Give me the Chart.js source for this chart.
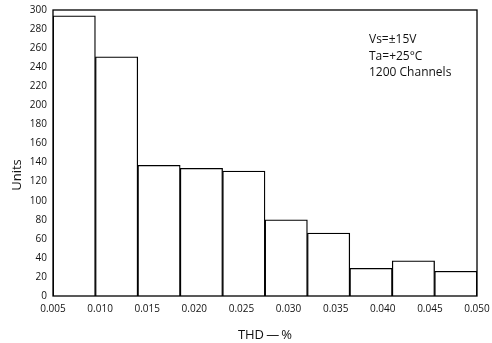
<!DOCTYPE html>
<html>
<head>
<meta charset="utf-8">
<script src="https://cdn.jsdelivr.net/npm/chart.js@4/dist/chart.umd.min.js"></script>
<style>
  html, body { margin: 0; padding: 0; background: #fff; }
  #wrap { width: 492px; height: 343px; }
</style>
</head>
<body>
<div id="wrap"><canvas id="thdChart" width="492" height="343"></canvas></div>
<script>
// histogram bins (THD %), bin centres and counts
const binCenters = [0.00725, 0.01175, 0.01625, 0.02075, 0.02525, 0.02975, 0.03425, 0.03875, 0.04325, 0.04775];
const unitCounts = [294, 251, 137, 134, 131, 80, 66, 29, 37, 26];
const notes = ['Vs=\u00b115V', 'Ta=+25\u00b0C', '1200 Channels'];

const FONT = "'Open Sans', 'Noto Sans', sans-serif";

// frame around the plot plus the free-standing texts
const extras = {
  id: 'extras',
  afterDraw(chart) {
    const { ctx, chartArea: a } = chart;
    ctx.save();
    ctx.strokeStyle = '#000';
    ctx.lineWidth = 1.3;
    ctx.strokeRect(a.left, a.top, a.right - a.left, a.bottom - a.top);

    ctx.fillStyle = '#111';
    ctx.font = '12px ' + FONT;
    ctx.textAlign = 'left';
    ctx.textBaseline = 'middle';
    notes.forEach((t, i) => ctx.fillText(t, 369, 40 + i * 16.5));

    ctx.font = '13px ' + FONT;
    ctx.textAlign = 'center';
    ctx.translate(17, 175);
    ctx.rotate(-Math.PI / 2);
    ctx.fillText('Units', 0, 0);
    ctx.restore();
  }
};

new Chart(document.getElementById('thdChart').getContext('2d'), {
  type: 'bar',
  data: {
    datasets: [{
      data: binCenters.map((x, i) => ({ x: x, y: unitCounts[i] })),
      backgroundColor: '#fff',
      borderColor: '#000',
      borderWidth: 1.3,
      barPercentage: 1,
      categoryPercentage: 1
    }]
  },
  options: {
    responsive: false,
    animation: false,
    layout: { padding: { left: 0, right: 15, top: 10, bottom: 0 } },
    plugins: { legend: { display: false }, tooltip: { enabled: false } },
    scales: {
      x: {
        type: 'linear',
        offset: false,
        min: 0.005,
        max: 0.05,
        grid: { display: false, drawTicks: false },
        border: { display: false },
        ticks: {
          stepSize: 0.005,
          color: '#111',
          font: { family: FONT, size: 10 },
          padding: 7,
          maxRotation: 0,
          callback: v => v.toFixed(3)
        },
        title: {
          display: true,
          text: 'THD\u2009\u2014\u2009%',
          color: '#111',
          font: { family: FONT, size: 13 },
          padding: { top: 4, bottom: 0 }
        },
        afterFit: s => { s.height = 47; s.paddingLeft = 0; s.paddingRight = 0; }
      },
      y: {
        min: 0,
        max: 300,
        grid: { display: false, drawTicks: false },
        border: { display: false },
        ticks: {
          stepSize: 20,
          color: '#111',
          font: { family: FONT, size: 10 },
          padding: 6
        },
        afterFit: s => { s.width = 53; s.paddingTop = 0; s.paddingBottom = 0; }
      }
    }
  },
  plugins: [extras]
});
</script>
</body>
</html>
